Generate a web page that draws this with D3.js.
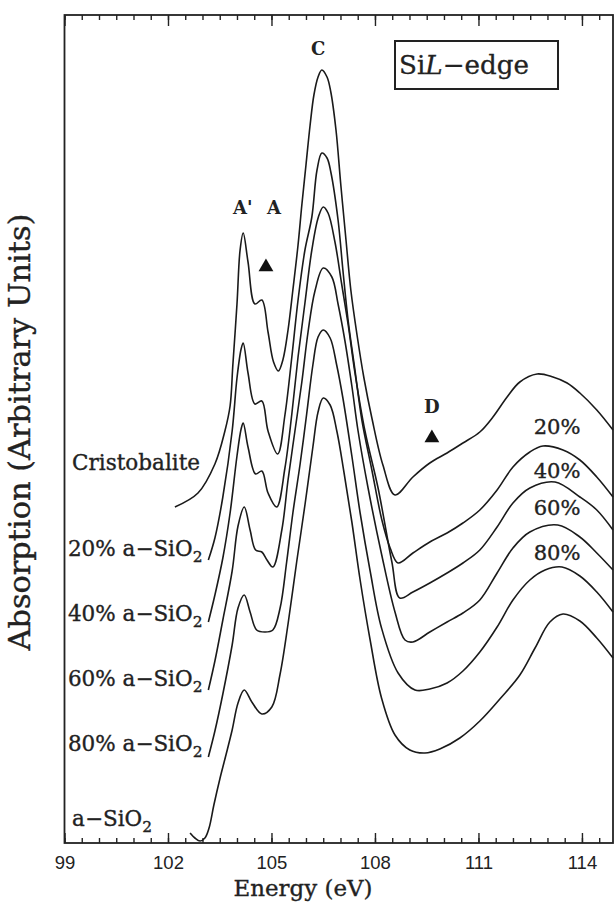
<!DOCTYPE html>
<html><head><meta charset="utf-8">
<script src="https://cdn.jsdelivr.net/npm/d3@7"></script>
<style>html,body{margin:0;padding:0;background:#fff;} svg{display:block;}</style>
</head><body>
<svg id="chart" width="615" height="911"></svg>
<script>
// ---------------- data ----------------
const energyDomain = [99, 114.9];
const absDomain = [0, 8.28];
const tickLabels = [99, 102, 105, 108, 111, 114];
const minorStep = 0.5;

const seriesNames = ["Cristobalite", "20% a\u2212SiO", "40% a\u2212SiO", "60% a\u2212SiO", "80% a\u2212SiO", "a\u2212SiO"];
const seriesSub = ["", "2", "2", "2", "2", "2"];

const eCristobalite = [102.20,102.87,103.36,103.65,103.80,103.88,104.00,104.09,104.18,104.32,104.52,104.72,104.90,105.06,105.20,105.33,105.48,105.62,105.77,105.88,106.00,106.12,106.23,106.35,106.46,106.61,106.72,106.87,107.01,107.16,107.30,107.48,107.68,107.91,108.23,108.58,109.10,109.59,110.09,110.55,111.04,111.42,111.83,112.20,112.70,113.16,113.57,113.94,114.43,114.90];
const aCristobalite = [3.36,3.50,3.79,4.12,4.37,4.78,5.39,5.93,6.10,5.81,5.39,5.43,5.11,4.81,4.72,4.83,5.13,5.53,5.98,6.38,6.78,7.18,7.48,7.66,7.73,7.66,7.51,7.13,6.58,6.03,5.53,5.08,4.65,4.25,3.78,3.48,3.66,3.80,3.90,4.00,4.11,4.26,4.46,4.61,4.69,4.66,4.60,4.50,4.33,4.13];

const e20 = [103.17,103.36,103.59,103.86,104.00,104.12,104.18,104.32,104.52,104.72,104.90,105.18,105.39,105.59,105.77,105.97,106.17,106.32,106.46,106.61,106.72,106.93,107.07,107.22,107.42,107.62,107.91,108.20,108.44,108.67,109.10,109.59,110.09,110.55,111.04,111.54,112.00,112.49,112.87,113.45,113.94,114.43,114.90];
const a20 = [2.83,3.05,3.46,4.12,4.65,4.94,5.00,4.70,4.39,4.42,4.12,3.89,4.28,4.86,5.43,5.93,6.26,6.73,6.90,6.85,6.71,6.23,5.73,5.23,4.73,4.23,3.73,3.23,2.95,2.80,2.90,3.01,3.10,3.20,3.33,3.53,3.76,3.91,3.97,3.93,3.83,3.66,3.46];

const e40 = [103.17,103.36,103.59,103.80,104.00,104.12,104.18,104.32,104.54,104.72,104.90,105.15,105.39,105.59,105.77,105.97,106.17,106.36,106.50,106.64,106.84,107.03,107.22,107.42,107.71,108.09,108.49,108.72,109.10,109.59,110.09,110.55,111.04,111.54,112.00,112.49,113.22,113.94,114.43,114.90];
const a40 = [2.21,2.48,2.85,3.30,3.87,4.14,4.20,3.96,3.69,3.72,3.50,3.36,3.75,4.29,4.86,5.40,5.93,6.26,6.36,6.30,6.01,5.60,5.19,4.70,4.12,3.55,2.81,2.45,2.51,2.60,2.70,2.80,2.93,3.16,3.40,3.55,3.61,3.46,3.33,3.13];

const e60 = [103.17,103.36,103.59,103.86,104.03,104.21,104.38,104.54,104.72,104.87,105.04,105.30,105.48,105.68,105.88,106.06,106.26,106.50,106.75,106.93,107.13,107.33,107.51,107.80,108.19,108.58,108.87,109.10,109.59,110.09,110.55,111.04,111.54,112.00,112.49,113.30,113.94,114.43,114.90];
const a60 = [1.53,1.82,2.23,2.72,3.17,3.36,3.13,2.93,2.91,2.83,2.76,3.13,3.63,4.12,4.61,5.11,5.52,5.75,5.66,5.39,5.02,4.57,4.12,3.55,2.89,2.31,2.03,2.01,2.11,2.21,2.30,2.43,2.70,2.95,3.11,3.18,3.06,2.90,2.73];

const e80 = [103.17,103.36,103.59,103.86,104.03,104.21,104.38,104.57,104.81,105.04,105.25,105.44,105.62,105.83,106.02,106.20,106.35,106.50,106.70,106.89,107.07,107.33,107.57,107.86,108.19,108.67,109.16,109.59,110.09,110.55,111.04,111.54,112.00,112.49,112.93,113.42,113.94,114.43,114.90];
const a80 = [0.86,1.12,1.49,1.98,2.35,2.48,2.31,2.13,2.11,2.13,2.35,2.81,3.30,3.79,4.29,4.78,5.06,5.13,5.05,4.78,4.45,3.87,3.30,2.72,2.15,1.70,1.53,1.54,1.60,1.72,1.91,2.16,2.43,2.63,2.73,2.76,2.67,2.51,2.31];

const eAmorph = [102.64,102.78,102.93,103.07,103.19,103.33,103.51,103.68,103.86,104.03,104.21,104.43,104.72,105.01,105.25,105.48,105.73,105.97,106.20,106.35,106.50,106.70,106.90,107.10,107.33,107.57,107.86,108.19,108.58,109.01,109.45,109.88,110.46,111.04,111.62,112.20,112.64,113.07,113.45,113.94,114.43,114.90];
const aAmorph = [0.10,0.05,0.02,0.05,0.15,0.38,0.65,0.88,1.13,1.40,1.53,1.41,1.29,1.36,1.69,2.19,2.81,3.38,3.96,4.31,4.45,4.38,4.11,3.71,3.21,2.63,2.03,1.45,1.08,0.93,0.90,0.94,1.05,1.22,1.44,1.68,1.95,2.21,2.29,2.22,2.05,1.85];

// label anchor positions (energy, absorption units)
const leftLabelEnergy = [99.22, 99.1, 99.1, 99.1, 99.1, 99.22];
const leftLabelAbs = [3.81, 2.95, 2.30, 1.65, 1.00, 0.25];
const rightLabels = ["20%", "40%", "60%", "80%"];
const rightLabelEnergy = 113.28;
const rightLabelAbs = [4.16, 3.72, 3.35, 2.90];
const peakLabels = ["A'", "A", "C", "D"];
const peakLabelEnergy = [104.17, 105.07, 106.35, 109.65];
const peakLabelAbs = [6.35, 6.35, 7.94, 4.36];
const markerEnergy = [104.84, 109.65];
const markerAbs = [5.76, 4.05];

// ---------------- layout ----------------
const W = 615, H = 911;
const margin = {top: 15, right: 2, bottom: 68, left: 64.5};
const svg = d3.select("#chart");
const x = d3.scaleLinear().domain(energyDomain).range([margin.left, W - margin.right]);
const y = d3.scaleLinear().domain(absDomain).range([H - margin.bottom, margin.top]);
const serif = "'DejaVu Serif', serif";
const ink = "#222";

function fitWidth(sel, target) {
  const w = sel.node().getComputedTextLength();
  const fs = parseFloat(sel.attr("font-size"));
  sel.attr("font-size", fs * target / w);
  return fs * target / w;
}
function heavy(sel, w) { return sel.attr("stroke", ink).attr("stroke-width", w).attr("fill", ink); }

// axes
const minorTicks = d3.range(energyDomain[0], energyDomain[1] + 1e-9, minorStep);
const bottomMinor = d3.axisBottom(x).tickValues(minorTicks).tickSize(-5).tickFormat("");
const bottomMajor = d3.axisBottom(x).tickValues(tickLabels).tickSize(-10).tickPadding(13).tickFormat(d3.format("d"));
const topMinor = d3.axisTop(x).tickValues(minorTicks).tickSize(-5).tickFormat("");
const topMajor = d3.axisTop(x).tickValues(tickLabels).tickSize(-11).tickFormat("");

const gb1 = svg.append("g").attr("transform", `translate(0,${H - margin.bottom})`).call(bottomMinor);
const gb2 = svg.append("g").attr("transform", `translate(0,${H - margin.bottom})`).call(bottomMajor);
const gt1 = svg.append("g").attr("transform", `translate(0,${margin.top})`).call(topMinor);
const gt2 = svg.append("g").attr("transform", `translate(0,${margin.top})`).call(topMajor);
[gb1, gb2, gt1, gt2].forEach(g => {
  g.select(".domain").remove();
  g.selectAll(".tick line").attr("stroke", ink).attr("stroke-width", 1.4);
});
gb2.selectAll(".tick text")
  .attr("font-family", "'Liberation Sans', Arial, sans-serif")
  .attr("font-size", 18.5).attr("fill", ink);

// frame
svg.append("rect")
  .attr("x", margin.left).attr("y", margin.top)
  .attr("width", W - margin.right - margin.left)
  .attr("height", H - margin.bottom - margin.top)
  .attr("fill", "none").attr("stroke", ink).attr("stroke-width", 1.8);

// curves
const series = [
  {e: eCristobalite, a: aCristobalite},
  {e: e20, a: a20},
  {e: e40, a: a40},
  {e: e60, a: a60},
  {e: e80, a: a80},
  {e: eAmorph, a: aAmorph}
];
const line = d3.line().x(d => x(d[0])).y(d => y(d[1])).curve(d3.curveCatmullRom.alpha(0.5));
svg.append("g").selectAll("path").data(series).join("path")
  .attr("d", s => line(s.e.map((v, i) => [v, s.a[i]])))
  .attr("fill", "none").attr("stroke", "#1a1a1a").attr("stroke-width", 1.6)
  .attr("stroke-linejoin", "round");

// left series labels
const probe = svg.append("text").attr("font-family", serif).attr("font-size", 20).text(seriesNames[0]);
const labelSize = fitWidth(probe, 128);
probe.remove();
seriesNames.forEach((name, i) => {
  const t = svg.append("text")
    .attr("x", x(leftLabelEnergy[i])).attr("y", y(leftLabelAbs[i]))
    .attr("dy", "0.35em")
    .attr("font-family", serif).attr("font-size", labelSize);
  heavy(t, 0.35);
  t.append("tspan").text(name);
  if (seriesSub[i]) t.append("tspan").attr("font-size", "0.72em").attr("dy", "0.45em").text(seriesSub[i]);
});

// right percentage labels
rightLabels.forEach((lab, i) => {
  heavy(svg.append("text")
    .attr("x", x(rightLabelEnergy)).attr("y", y(rightLabelAbs[i]))
    .attr("dy", "0.35em").attr("text-anchor", "middle")
    .attr("font-family", serif).attr("font-size", labelSize * 0.98)
    .text(lab), 0.35);
});

// peak labels
peakLabels.forEach((lab, i) => {
  svg.append("text")
    .attr("x", x(peakLabelEnergy[i])).attr("y", y(peakLabelAbs[i]))
    .attr("dy", "0.35em").attr("text-anchor", "middle")
    .attr("font-family", serif).attr("font-size", 18).attr("font-weight", "bold").attr("fill", ink)
    .text(lab);
});

// triangle markers
svg.append("g").selectAll("path").data(markerEnergy).join("path")
  .attr("transform", (d, i) => `translate(${x(d)},${y(markerAbs[i])})`)
  .attr("d", d3.symbol(d3.symbolTriangle, 95))
  .attr("fill", "#111");

// Si L-edge box
const box = {x: 395, y: 41, w: 163, h: 48};
svg.append("rect").attr("x", box.x).attr("y", box.y).attr("width", box.w).attr("height", box.h)
  .attr("fill", "none").attr("stroke", ink).attr("stroke-width", 2);
const bt = svg.append("text").attr("x", box.x + 4).attr("y", box.y + box.h / 2).attr("dy", "0.35em")
  .attr("font-family", serif).attr("font-size", 22);
heavy(bt, 0.3);
bt.append("tspan").text("Si");
bt.append("tspan").attr("font-style", "italic").text("L");
bt.append("tspan").text("\u2212edge");
fitWidth(bt, 130);

// axis titles
const xt = svg.append("text").attr("x", 303).attr("y", 896).attr("text-anchor", "middle")
  .attr("font-family", serif).attr("font-size", 22).text("Energy (eV)");
heavy(xt, 0.35);
fitWidth(xt, 139);
const yt = svg.append("text").attr("transform", "translate(30,432) rotate(-90)").attr("text-anchor", "middle")
  .attr("font-family", serif).attr("font-size", 24).text("Absorption (Arbitrary Units)");
heavy(yt, 0.35);
fitWidth(yt, 437);
</script>
</body></html>
